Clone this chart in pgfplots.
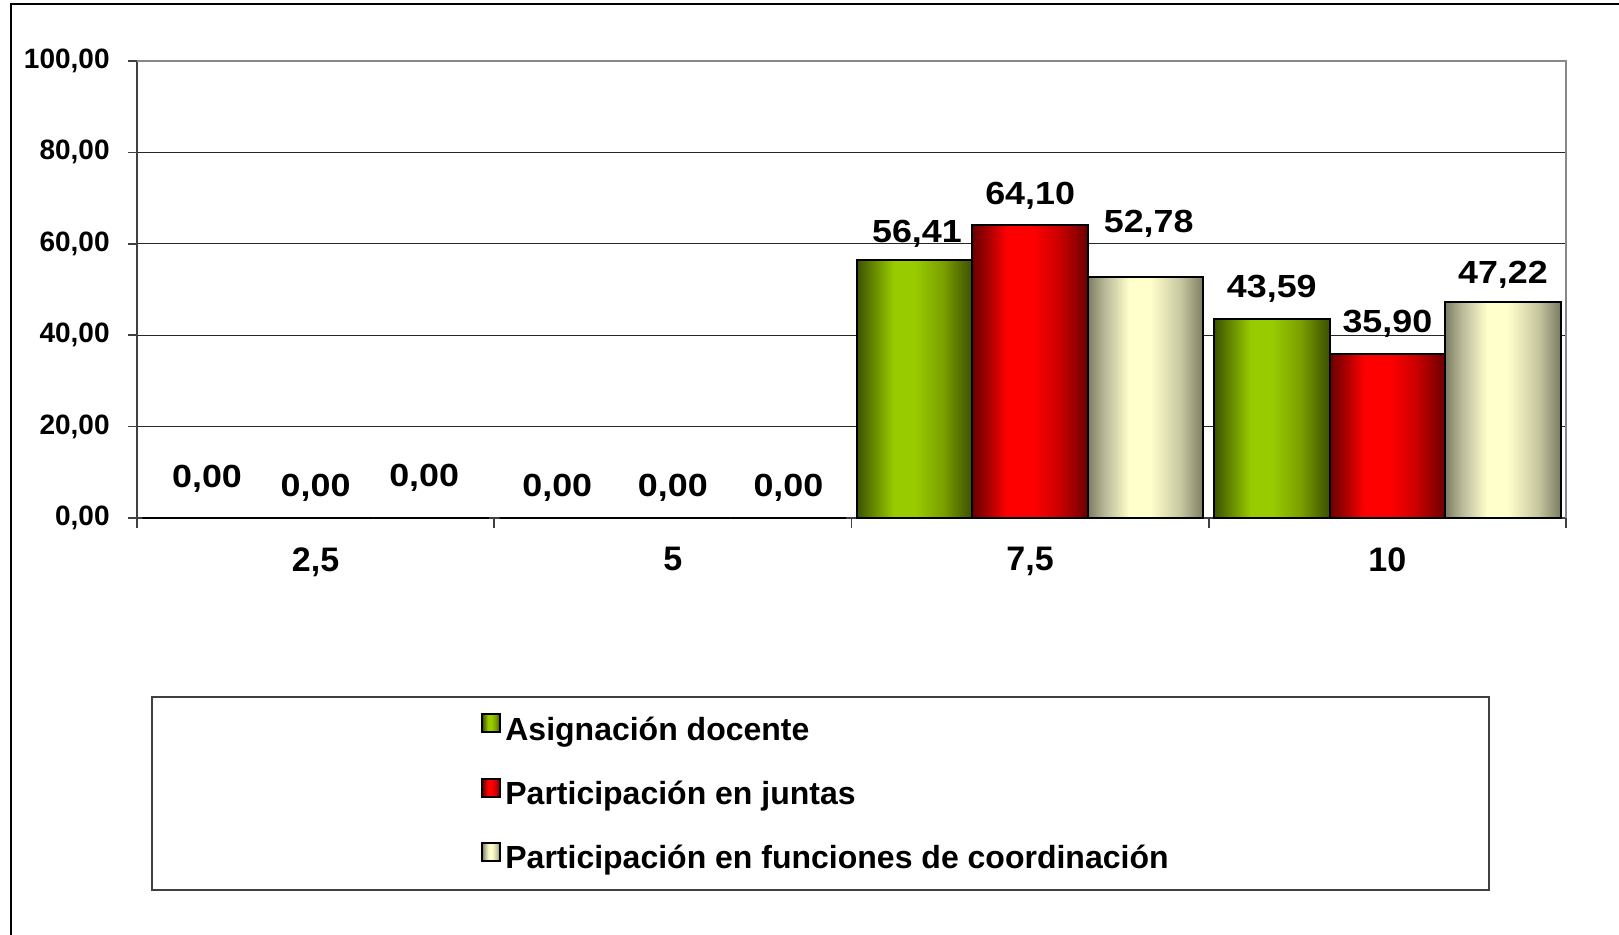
\documentclass[border=0pt]{standalone}
\usepackage{fontspec}
\setmainfont{Liberation Sans}
\newfontfamily\labelfont[FakeStretch=1.12]{Liberation Sans}
\usepackage{pgfplots}
\pgfplotsset{compat=1.18}

\definecolor{gA}{HTML}{3D5200}
\definecolor{gB}{HTML}{5E7F00}
\definecolor{gC}{HTML}{99CC00}
\definecolor{gD}{HTML}{7A9F00}
\definecolor{gE}{HTML}{4F6800}
\definecolor{rA}{HTML}{6A0000}
\definecolor{rB}{HTML}{A00000}
\definecolor{rC}{HTML}{FF0000}
\definecolor{rD}{HTML}{C80000}
\definecolor{cA}{HTML}{7C7C62}
\definecolor{cB}{HTML}{B8B898}
\definecolor{cC}{HTML}{FFFFCC}
\definecolor{cD}{HTML}{C8C8A0}

\pgfdeclarehorizontalshading{greenbar}{100bp}{color(0bp)=(gA); color(25bp)=(gA); color(31bp)=(gB); color(41bp)=(gC); color(50bp)=(gC); color(62.5bp)=(gD); color(71bp)=(gE); color(75bp)=(gA); color(100bp)=(gA)}
\pgfdeclarehorizontalshading{redbar}{100bp}{color(0bp)=(rA); color(25bp)=(rA); color(31bp)=(rB); color(40bp)=(rC); color(51bp)=(rC); color(63bp)=(rD); color(75bp)=(rA); color(100bp)=(rA)}
\pgfdeclarehorizontalshading{creambar}{100bp}{color(0bp)=(cA); color(25bp)=(cA); color(32bp)=(cB); color(43bp)=(cC); color(52bp)=(cC); color(65bp)=(cD); color(75bp)=(cA); color(100bp)=(cA)}

\pgfplotsset{
  barbase/.style={ybar, bar width=57.75pt, bar shift=0pt, draw=black, line width=1pt, shade,
    nodes near coords={\pgfmathprintnumber[fixed,fixed zerofill,precision=2,use comma,assume math mode=true]{\pgfplotspointmeta}},
    every node near coord/.append style={anchor=base, inner sep=0pt, font=\labelfont\bfseries\fontsize{16}{18}\selectfont, text=black},
    legend image code/.code={\draw[##1, line width=1pt] (0pt,0pt) rectangle (9pt,9pt);}},
}

\begin{document}
\begin{tikzpicture}
\useasboundingbox (0,0) rectangle (809.5pt,467.5pt);
\begin{axis}[
  at={(68.5pt,208.5pt)}, anchor=south west,
  scale only axis, width=714.5pt, height=228.5pt,
  xmin=-0.5, xmax=3.5, ymin=0, ymax=100,
  axis lines=left, axis line style={-, black!75, line width=0.8pt},
  xtick={0,1,2,3}, xticklabels={{2,5},5,{7,5},10},
  minor xtick={-0.5,0.5,1.5,2.5,3.5},
  ytick={0,20,...,100},
  tick align=outside, major tick length=4.5pt, minor tick length=5pt,
  major x tick style={draw=none},
  tick style={black!75, line width=0.8pt},
  ymajorgrids, grid style={black!85, line width=0.6pt},
  yticklabel style={font=\bfseries\fontsize{14}{16}\selectfont, inner sep=0pt, xshift=-9pt, /pgf/number format/.cd, fixed, fixed zerofill, precision=2, use comma, assume math mode=true},
  xticklabel style={font=\bfseries\fontsize{17}{19}\selectfont, inner sep=0pt, yshift=-10pt},
  legend style={at={(0.2407,-0.4267)}, anchor=north west, draw=none, fill=none, inner sep=0pt, row sep=14.6pt, column sep=2pt, font=\bfseries\fontsize{16}{18}\selectfont, nodes={inner sep=0pt, text height=12pt, text depth=4pt}},
  legend cell align=left,
  clip=false,
]
% group 7,5
\addplot[barbase, shading=greenbar, every node near coord/.append style={yshift=9pt, xshift=1.2pt}] coordinates {(1.6765,56.41)};
\addlegendentry{Asignación docente}
\addplot[barbase, shading=redbar, every node near coord/.append style={yshift=10.5pt}] coordinates {(2,64.10)};
\addlegendentry{Participación en juntas}
\addplot[barbase, shading=creambar, every node near coord/.append style={yshift=22pt, xshift=1.5pt}] coordinates {(2.3235,52.78)};
\addlegendentry{Participación en funciones de coordinación}
% group 2,5
\addplot[barbase, forget plot, shading=greenbar, every node near coord/.append style={yshift=15pt, xshift=3.5pt}] coordinates {(-0.3235,0)};
\addplot[barbase, forget plot, shading=redbar, every node near coord/.append style={yshift=10.5pt}] coordinates {(0,0)};
\addplot[barbase, forget plot, shading=creambar, every node near coord/.append style={yshift=15.5pt, xshift=-3.5pt}] coordinates {(0.3235,0)};
% group 5
\addplot[barbase, forget plot, shading=greenbar, every node near coord/.append style={yshift=10.5pt}] coordinates {(0.6765,0)};
\addplot[barbase, forget plot, shading=redbar, every node near coord/.append style={yshift=10.5pt}] coordinates {(1,0)};
\addplot[barbase, forget plot, shading=creambar, every node near coord/.append style={yshift=10.5pt}] coordinates {(1.3235,0)};
% group 10
\addplot[barbase, forget plot, shading=greenbar, every node near coord/.append style={yshift=10.5pt}] coordinates {(2.6765,43.59)};
\addplot[barbase, forget plot, shading=redbar, every node near coord/.append style={yshift=10.5pt}] coordinates {(3,35.90)};
\addplot[barbase, forget plot, shading=creambar, every node near coord/.append style={yshift=9.5pt}] coordinates {(3.3235,47.22)};
\draw[color={rgb,255:red,136;green,136;blue,136}, line width=1.2pt] (rel axis cs:0,1) -- (rel axis cs:1,1) -- (rel axis cs:1,0);
\end{axis}
\draw[black, line width=1pt] (5.5pt,-2pt) -- (5.5pt,465.25pt) -- (812pt,465.25pt);
\draw[black!75, line width=1pt] (76pt,22.5pt) rectangle (744.5pt,119pt);
\end{tikzpicture}
\end{document}
